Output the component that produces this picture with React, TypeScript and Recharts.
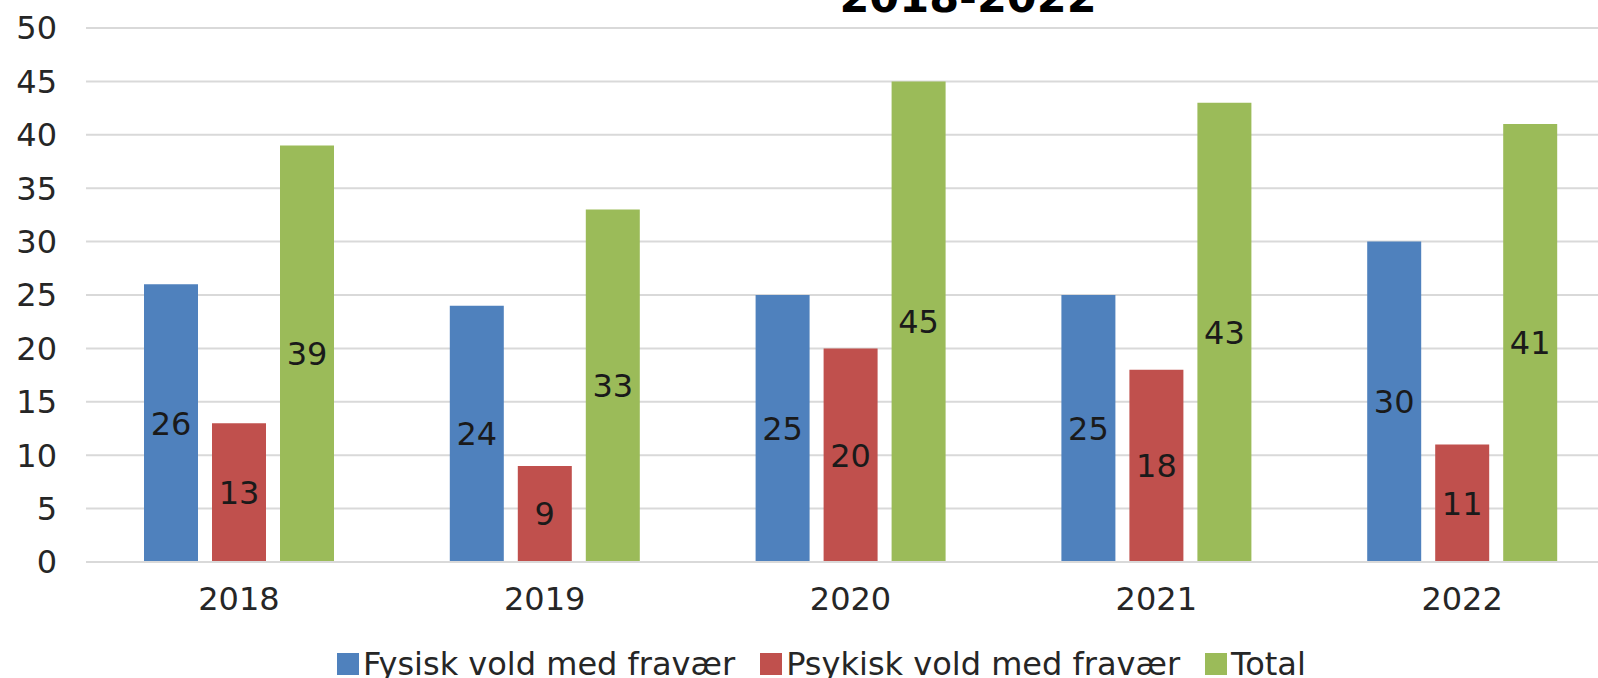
import React from 'react';
import { BarChart, Bar, XAxis, YAxis, CartesianGrid, Legend, LabelList } from 'recharts';

const categories = ['2018', '2019', '2020', '2021', '2022'];
const fysisk = [26, 24, 25, 25, 30];
const psykisk = [13, 9, 20, 18, 11];
const total = [39, 33, 45, 43, 41];
const yTicks = [0, 5, 10, 15, 20, 25, 30, 35, 40, 45, 50];
const seriesNames = ['Fysisk vold med fravær', 'Psykisk vold med fravær', 'Total'];
const seriesColors = ['#4F81BD', '#C0504D', '#9BBB59'];
const titleText = '2018-2022';

const data = categories.map((c, i) => ({
  year: c,
  fysisk: fysisk[i],
  psykisk: psykisk[i],
  total: total[i],
}));

const FONT = '"DejaVu Sans", Verdana, sans-serif';

const renderLegend = (props: any) => {
  const { payload } = props;
  return (
    <div style={{ whiteSpace: 'nowrap', fontSize: 32, color: '#262626', fontFamily: FONT, lineHeight: 'normal' }}>
      {(payload || []).map((entry: any, i: number) => (
        <span key={i} style={{ display: 'inline-block', marginRight: 25 }}>
          <span
            style={{
              display: 'inline-block',
              width: 22,
              height: 22,
              background: entry.color,
              marginRight: 4,
              verticalAlign: 'baseline',
            }}
          />
          {entry.value}
        </span>
      ))}
    </div>
  );
};

export default function App() {
  return (
    <div
      style={{
        position: 'absolute',
        left: 0,
        top: 0,
        width: 1598,
        height: 678,
        overflow: 'hidden',
        background: '#fff',
        fontFamily: FONT,
      }}
    >
      <BarChart
        width={1615}
        height={678}
        data={data}
        margin={{ top: 28, right: 0, left: 0, bottom: 0 }}
        barGap={14}
        barSize={54}
      >
        <CartesianGrid vertical={false} stroke="#D9D9D9" strokeWidth={2} />
        <XAxis
          dataKey="year"
          height={79}
          tickLine={false}
          tickSize={0}
          tickMargin={25}
          axisLine={{ stroke: '#D9D9D9', strokeWidth: 2 }}
          tick={{ fontSize: 32, fill: '#262626', fontFamily: FONT }}
        />
        <YAxis
          domain={[0, 50]}
          ticks={yTicks}
          width={86}
          tickLine={false}
          tickSize={0}
          tickMargin={29}
          axisLine={false}
          interval={0}
          tick={{ fontSize: 32, fill: '#262626', fontFamily: FONT }}
        />
        <Legend
          content={renderLegend}
          verticalAlign="bottom"
          wrapperStyle={{ position: 'absolute', left: 337, top: 645, height: 37, width: 1100 }}
        />
        <Bar dataKey="fysisk" name={seriesNames[0]} fill={seriesColors[0]} isAnimationActive={false}>
          <LabelList dataKey="fysisk" position="center" style={{ fontSize: 32, fill: '#1a1a1a', fontFamily: FONT }} />
        </Bar>
        <Bar dataKey="psykisk" name={seriesNames[1]} fill={seriesColors[1]} isAnimationActive={false}>
          <LabelList dataKey="psykisk" position="center" style={{ fontSize: 32, fill: '#1a1a1a', fontFamily: FONT }} />
        </Bar>
        <Bar dataKey="total" name={seriesNames[2]} fill={seriesColors[2]} isAnimationActive={false}>
          <LabelList dataKey="total" position="center" style={{ fontSize: 32, fill: '#1a1a1a', fontFamily: FONT }} />
        </Bar>
      </BarChart>
      <svg
        width={1598}
        height={678}
        style={{ position: 'absolute', left: 0, top: 0, pointerEvents: 'none' }}
      >
        <text x={968} y={12} textAnchor="middle" fontSize={43} fontWeight="bold" fill="#000" fontFamily={FONT}>
          {titleText}
        </text>
      </svg>
    </div>
  );
}
